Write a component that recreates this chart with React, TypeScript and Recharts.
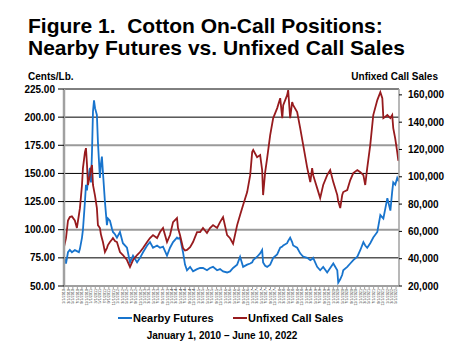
import React from 'react';
import { LineChart, Line, XAxis, YAxis, ReferenceLine } from 'recharts';

const dates = [
  '2010-01-01','2010-01-28','2010-02-24','2010-03-21','2010-04-18','2010-05-28','2010-06-25','2010-07-22','2010-08-05','2010-09-02',
  '2010-09-15','2010-10-12','2010-10-26','2010-11-09','2010-11-22','2010-12-19','2011-01-02','2011-01-16','2011-01-29','2011-02-12',
  '2011-02-26','2011-03-23','2011-04-06','2011-05-03','2011-05-16','2011-05-30','2011-06-13','2011-07-10','2011-08-06','2011-08-20',
  '2011-09-16','2011-10-13','2011-10-27','2011-11-23','2011-12-20','2012-01-30','2012-03-10','2012-05-04','2012-06-14','2012-07-25',
  '2012-09-18','2012-10-28','2012-12-08','2013-02-01','2013-03-12','2013-04-22','2013-06-16','2013-07-26','2013-09-05','2013-10-29',
  '2013-12-09','2014-01-19','2014-03-13','2014-03-27','2014-04-23','2014-06-03','2014-06-30','2014-07-27','2014-09-07','2014-10-17',
  '2014-12-10','2015-01-21','2015-03-01','2015-04-24','2015-06-04','2015-07-15','2015-09-08','2015-10-18','2015-11-28','2016-01-22',
  '2016-03-02','2016-04-12','2016-06-06','2016-07-16','2016-08-26','2016-10-20','2016-11-30','2016-12-27','2017-01-10','2017-03-04',
  '2017-04-14','2017-05-11','2017-05-24','2017-06-21','2017-07-18','2017-08-28','2017-10-08','2017-12-01','2018-01-11','2018-02-08',
  '2018-02-21','2018-04-15','2018-04-29','2018-05-26','2018-06-22','2018-07-06','2018-08-29','2018-10-09','2018-11-19','2019-01-13',
  '2019-02-23','2019-03-20','2019-04-03','2019-05-27','2019-07-07','2019-08-17','2019-10-10','2019-11-20','2020-01-01','2020-02-24',
  '2020-03-08','2020-04-04','2020-05-01','2020-05-15','2020-07-08','2020-08-18','2020-09-28','2020-11-22','2021-01-02','2021-02-12',
  '2021-03-09','2021-04-05','2021-05-16','2021-06-26','2021-08-20','2021-09-30','2021-10-27','2021-11-10','2021-12-07','2022-01-03',
  '2022-02-13','2022-03-10','2022-03-24','2022-04-20','2022-05-17','2022-05-31','2022-06-10',
];

const nearbyFutures = [
  76,70,80,82,80,82,81,80,83,93,
  100,125,140,135,145,155,142,170,205,215,
  208,202,178,146,158,165,151,125,104,110,
  108,101,98,96,93,98,88,84,71,77,
  71,75,80,86,89,84,86,84,85,77,
  84,89,93,92,93,80,69,64,67,63,
  65,66,66,64,66,67,64,65,63,62,
  63,66,69,76,67,69,70,71,73,76,
  79,82,71,68,67,69,75,78,84,85,
  86,88,90,93,89,86,84,79,76,75,
  73,74,75,67,64,67,62,66,70,64,
  53,56,60,64,67,70,73,76,82,89,
  86,84,88,93,98,113,111,110,119,128,
  117,134,142,140,146,144,146,
];

const unfixedCallSales = [
  48500,55000,68000,70500,71000,68000,62500,72000,77000,94000,
  106400,118000,121000,108600,94000,101000,106000,108600,94000,90000,
  86000,77000,64600,62500,58000,55000,52200,44900,47800,50000,
  52200,54000,55100,53000,52200,44900,42700,39000,33900,39000,
  42700,44900,47800,52200,55100,57300,55100,59500,62500,52200,
  57300,66800,69800,62500,57300,47800,46000,46400,48500,52200,
  59500,59500,62500,58800,62500,64600,62500,66800,70500,57300,
  55000,51000,64600,72000,79300,88800,101200,118100,119600,114400,
  115900,105000,86600,103400,113700,130500,143000,150300,157600,143000,
  152500,159800,163500,143000,154700,152500,147400,135700,123200,106400,
  96100,106400,101200,91700,84400,94000,101200,104900,96100,86600,
  82000,77100,86600,88800,90300,97600,102700,104900,103400,101200,
  94000,106400,123200,145200,156200,162000,157600,143000,144000,145200,
  143000,145200,135700,128000,118100,112200,112000,
];

const leftTicks = [50, 75, 100, 125, 150, 175, 200, 225];
const rightTicks = [20000, 40000, 60000, 80000, 100000, 120000, 140000, 160000];
const blackGridLines = [75, 125, 150, 200, 225];
const greyGridLines = [100, 175];

const START = Date.UTC(2010, 0, 1);
const END = Date.UTC(2022, 5, 10);

const data = dates.map((d, i) => ({
  t: Date.parse(d + 'T00:00:00Z'),
  futures: nearbyFutures[i],
  calls: unfixedCallSales[i],
}));

const xTicks: number[] = [];
for (let y = 2010; y <= 2022; y++) {
  for (let m = 0; m < 12; m += 2) {
    const t = Date.UTC(y, m, 1);
    if (t <= END) xTicks.push(t);
  }
}

const FONT = '"Liberation Sans", Arial, sans-serif';
const BLUE = '#1874cd';
const RED = '#971b1e';

const DateTick = (props: any) => {
  const { x, y, payload } = props;
  const d = new Date(payload.value);
  const label = `${d.getUTCMonth() + 1}/${d.getUTCDate()}/${d.getUTCFullYear()}`;
  return (
    <text
      x={0}
      y={0}
      transform={`translate(${x + 1.3},${y}) rotate(-90)`}
      textAnchor="end"
      fontSize={3.8}
      fill="#333"
      fontFamily={FONT}
    >
      {label}
    </text>
  );
};

export default function App() {
  return (
    <div style={{ position: 'absolute', left: 0, top: 0, width: 468, height: 351, background: '#fff', fontFamily: FONT }}>
      <LineChart width={468} height={351} data={data} margin={{ top: 89, right: 0, bottom: 45, left: 0 }}>
        {blackGridLines.map((v) => (
          <ReferenceLine key={'b' + v} yAxisId="left" y={v} stroke="#000" strokeWidth={1} />
        ))}
        {greyGridLines.map((v) => (
          <ReferenceLine key={'g' + v} yAxisId="left" y={v} stroke="#9a9a9a" strokeWidth={2} />
        ))}
        <XAxis
          dataKey="t"
          type="number"
          domain={[START, END]}
          ticks={xTicks}
          interval={0}
          allowDataOverflow
          height={20}
          tickSize={3}
          tickMargin={0}
          tick={<DateTick />}
          axisLine={{ stroke: '#a0a0a0', strokeWidth: 2 }}
          tickLine={{ stroke: '#a0a0a0' }}
        />
        <YAxis
          yAxisId="left"
          orientation="left"
          width={64}
          domain={[50, 225]}
          ticks={leftTicks}
          interval={0}
          allowDataOverflow
          tickFormatter={(v: number) => v.toFixed(2)}
          tickSize={6}
          tickMargin={3}
          tick={{ fontSize: 10, fontWeight: 'bold', fill: '#000', fontFamily: FONT }}
          axisLine={{ stroke: '#a0a0a0', strokeWidth: 2.5 }}
          tickLine={{ stroke: '#000' }}
        />
        <YAxis
          yAxisId="right"
          orientation="right"
          width={69}
          domain={[20000, 164300]}
          ticks={rightTicks}
          interval={0}
          allowDataOverflow
          tickFormatter={(v: number) => v.toLocaleString('en-US')}
          tickSize={3}
          tickMargin={6}
          tick={{ fontSize: 10, fontWeight: 'bold', fill: '#000', fontFamily: FONT, textAnchor: 'start' }}
          axisLine={{ stroke: '#a0a0a0', strokeWidth: 1.5 }}
          tickLine={{ stroke: '#000' }}
        />
        <Line
          yAxisId="left"
          dataKey="futures"
          type="linear"
          stroke={BLUE}
          strokeWidth={1.8}
          dot={false}
          isAnimationActive={false}
        />
        <Line
          yAxisId="right"
          dataKey="calls"
          type="linear"
          stroke={RED}
          strokeWidth={1.8}
          dot={false}
          isAnimationActive={false}
        />
      </LineChart>
      <svg
        width={468}
        height={351}
        style={{ position: 'absolute', left: 0, top: 0, pointerEvents: 'none' }}
        fontFamily={FONT}
      >
        <text x={28} y={32.5} fontSize={21} fontWeight="bold" fill="#000" style={{ whiteSpace: 'pre' }}>{'Figure 1.\u00a0 Cotton On-Call Positions:'}</text>
        <text x={28} y={55} fontSize={21} fontWeight="bold" fill="#000">Nearby Futures vs. Unfixed Call Sales</text>
        <text x={28} y={80} fontSize={10} fontWeight="bold" fill="#000">Cents/Lb.</text>
        <text x={438} y={80} fontSize={10} fontWeight="bold" fill="#000" textAnchor="end">Unfixed Call Sales</text>
        <line x1={118} y1={318} x2={132} y2={318} stroke={BLUE} strokeWidth={2} />
        <text x={133} y={322} fontSize={11} fontWeight="bold" fill="#000">Nearby Futures</text>
        <line x1={233} y1={318} x2={247} y2={318} stroke={RED} strokeWidth={2} />
        <text x={248} y={322} fontSize={11} fontWeight="bold" fill="#000">Unfixed Call Sales</text>
        <text x={222} y={339} fontSize={10} fontWeight="bold" fill="#000" textAnchor="middle">January 1, 2010 – June 10, 2022</text>
      </svg>
    </div>
  );
}
